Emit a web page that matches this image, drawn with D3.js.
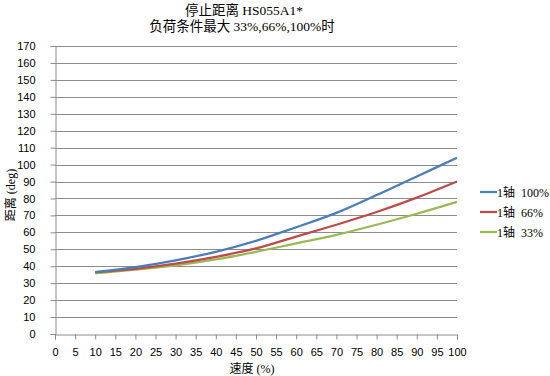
<!DOCTYPE html>
<html>
<head>
<meta charset="utf-8">
<script src="https://cdn.jsdelivr.net/npm/d3@7"></script>
<style>
  body { margin: 0; background: #fff; }
  svg { display: block; }
  .tick text { font-family: "Liberation Sans", Arial, sans-serif; font-size: 11px; fill: #000; }
</style>
</head>
<body>
<div id="chart"></div>
<script>
// Data
const speeds = [10, 20, 30, 40, 50, 60, 70, 80, 90, 100];
const load100 = [36.5, 39.5, 43.5, 48.5, 55, 63, 71.5, 82, 93, 104];
const load66 = [36.5, 38.5, 41.5, 45.5, 50.5, 57.5, 64.5, 72, 80.5, 90];
const load33 = [35.8, 38, 40.5, 44, 48.5, 53.5, 58.5, 64.5, 71, 78];
const seriesAxis = ['1轴', '1轴', '1轴'];
const seriesLoad = ['100%', '66%', '33%'];
const xTicks = d3.range(0, 101, 5);
const yTicks = d3.range(0, 171, 10);

const width = 550, height = 376;
const margin = { left: 55, right: 93, top: 46, bottom: 42 };

const svg = d3.select('#chart').append('svg')
    .attr('width', width)
    .attr('height', height);

const x = d3.scaleLinear().domain([0, 100]).range([margin.left, width - margin.right]);
const y = d3.scaleLinear().domain([0, 170]).range([height - margin.bottom, margin.top]);

// Gridlines
svg.append('g')
    .selectAll('line')
    .data(yTicks.filter(d => d > 0))
    .join('line')
    .attr('x1', x(0)).attr('x2', x(100))
    .attr('y1', d => Math.round(y(d)) + 0.5)
    .attr('y2', d => Math.round(y(d)) + 0.5)
    .attr('stroke', '#8c8c8c')
    .attr('stroke-width', 1);

// Axes
const yAxis = svg.append('g')
    .attr('transform', `translate(${x(0) + 0.5},0)`)
    .call(d3.axisLeft(y).tickValues(yTicks).tickSize(5).tickPadding(15));
const xAxis = svg.append('g')
    .attr('transform', `translate(0,${Math.round(y(0)) + 0.5})`)
    .call(d3.axisBottom(x).tickValues(xTicks).tickSize(5).tickPadding(9));
[xAxis, yAxis].forEach(a => {
    a.select('.domain').attr('stroke', '#8c8c8c');
    a.selectAll('.tick line').attr('stroke', '#8c8c8c');
});

// Lines
const series = [
    { axis: seriesAxis[0], load: seriesLoad[0], values: load100, color: '#4a7ebb' },
    { axis: seriesAxis[1], load: seriesLoad[1], values: load66, color: '#be4b48' },
    { axis: seriesAxis[2], load: seriesLoad[2], values: load33, color: '#98b954' }
];
const line = d3.line()
    .x((d, i) => x(speeds[i]))
    .y(d => y(d))
    .curve(d3.curveCatmullRom.alpha(0.5));

svg.append('g')
    .selectAll('path')
    .data(series.slice().reverse())
    .join('path')
    .attr('d', d => line(d.values))
    .attr('fill', 'none')
    .attr('stroke', d => d.color)
    .attr('stroke-width', 2.25);

// Legend
const titleFont = '"Liberation Serif", "Noto Sans CJK SC", serif';
const legend = svg.append('g').attr('transform', 'translate(480,192)');
series.forEach((s, i) => {
    const g = legend.append('g').attr('transform', `translate(0,${i * 20})`);
    g.append('line').attr('x1', 0).attr('x2', 17).attr('y1', 0).attr('y2', 0)
        .attr('stroke', s.color).attr('stroke-width', 2.25);
    const t = g.append('text').attr('x', 17).attr('y', 4.5)
        .attr('font-family', titleFont)
        .attr('font-size', 12);
    t.append('tspan').text(s.axis);
    t.append('tspan').attr('dx', 6).text(s.load);
});

// Titles
svg.append('text').attr('x', 244).attr('y', 15).attr('text-anchor', 'middle')
    .attr('font-family', titleFont).attr('font-size', 13.5)
    .text('停止距离 HS055A1*');
svg.append('text').attr('x', 242).attr('y', 31).attr('text-anchor', 'middle')
    .attr('font-family', titleFont).attr('font-size', 13.5)
    .text('负荷条件最大 33%,66%,100%时');

svg.append('text')
    .attr('transform', 'translate(15,195) rotate(-90)')
    .attr('text-anchor', 'middle')
    .attr('font-family', titleFont).attr('font-size', 12)
    .text('距离 (deg)');
svg.append('text').attr('x', 252).attr('y', 373).attr('text-anchor', 'middle')
    .attr('font-family', titleFont).attr('font-size', 12)
    .text('速度 (%)');
</script>
</body>
</html>
